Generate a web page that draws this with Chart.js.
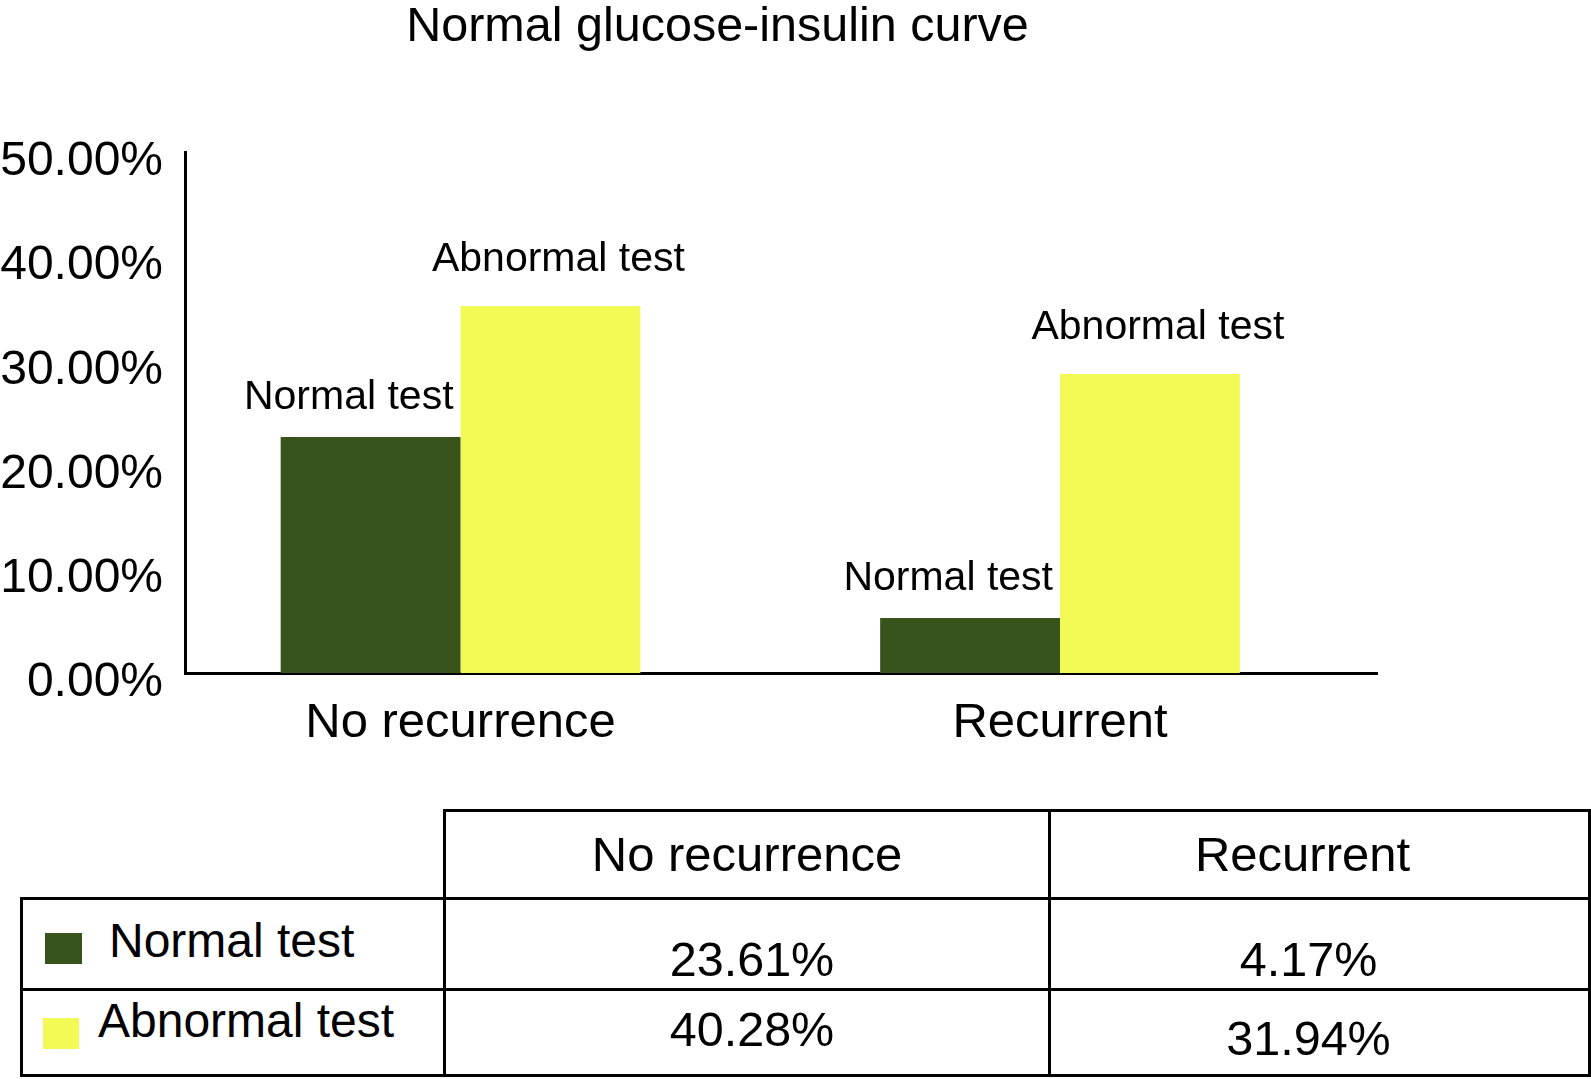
<!DOCTYPE html>
<html>
<head>
<meta charset="utf-8">
<script src="https://cdn.jsdelivr.net/npm/chart.js@4.4.1/dist/chart.umd.min.js"></script>
<style>
html, body { margin: 0; padding: 0; background: #fff; }
body { width: 1591px; height: 1079px; position: relative; overflow: hidden;
       font-family: "Liberation Sans", Arial, Helvetica, sans-serif; color: #000; }
#wrap { position: absolute; left: 0; top: 0; width: 1435px; height: 760px; }
#title { position: absolute; left: 0; top: 0; width: 1435px; text-align: center;
         font-size: 48.5px; line-height: 48.5px; white-space: nowrap; }
#tbl { position: absolute; left: 20px; top: 809px; border-collapse: collapse; table-layout: fixed; }
#tbl td { border: 3px solid #000; padding: 0; text-align: center; vertical-align: middle;
          position: relative; white-space: nowrap; line-height: 1.15; }
#tbl td.blank { border-top: none; border-left: none; }
#tbl td.hd { font-size: 49px; }
#tbl td.val { font-size: 48.5px; }
#tbl td.lab { text-align: left; }
.sw { position: absolute; display: block; }
.lt { position: absolute; font-size: 48px; line-height: 48px; display: block; }
</style>
</head>
<body>
<div id="wrap"><canvas id="chart"></canvas></div>
<div id="title"></div>
<table id="tbl"></table>
<script>
// ---- data ----
const chartTitle = 'Normal glucose-insulin curve';
const categories = ['No recurrence', 'Recurrent'];
const seriesNames = ['Normal test', 'Abnormal test'];
// bar heights as drawn in the picture (%)
const barNormal = [22.65, 5.28];
const barAbnormal = [35.22, 28.70];
// values printed in the table (%)
const tableNormal = [23.61, 4.17];
const tableAbnormal = [40.28, 31.94];
const yTicks = [0, 10, 20, 30, 40, 50];

const colors = ['#38531b', '#f4fa55'];
const FONT = '"Liberation Sans", Arial, Helvetica, sans-serif';
Chart.defaults.font.family = FONT;
Chart.defaults.color = '#000';

document.getElementById('title').textContent = chartTitle;

const barLabelPlugin = {
  id: 'barLabels',
  afterDatasetsDraw(chart) {
    const ctx = chart.ctx;
    ctx.save();
    ctx.font = '41px ' + FONT;
    ctx.fillStyle = '#000';
    ctx.textBaseline = 'alphabetic';
    chart.data.datasets.forEach((ds, di) => {
      const meta = chart.getDatasetMeta(di);
      meta.data.forEach(bar => {
        const p = bar.getProps(['x', 'y', 'width'], true);
        if (di === 0) {
          ctx.textAlign = 'right';
          ctx.fillText(ds.label, p.x + p.width / 2 - 7, p.y - 28);
        } else {
          ctx.textAlign = 'center';
          ctx.fillText(ds.label, p.x + 8, p.y - 35);
        }
      });
    });
    ctx.restore();
  }
};

new Chart(document.getElementById('chart'), {
  type: 'bar',
  data: {
    datasets: [
      { label: seriesNames[0], data: categories.map((c, i) => ({ x: i, y: barNormal[i] })),
        backgroundColor: colors[0], borderWidth: 0, categoryPercentage: 0.6, barPercentage: 1.0 },
      { label: seriesNames[1], data: categories.map((c, i) => ({ x: i, y: barAbnormal[i] })),
        backgroundColor: colors[1], borderWidth: 0, categoryPercentage: 0.6, barPercentage: 1.0 }
    ]
  },
  options: {
    responsive: true,
    maintainAspectRatio: false,
    animation: false,
    devicePixelRatio: 1,
    layout: { padding: { left: 0, right: 58, top: 152, bottom: 0 } },
    plugins: {
      legend: { display: false },
      tooltip: { enabled: false },
      title: { display: false }
    },
    scales: {
      x: {
        type: 'linear', min: -0.4596, max: 1.5288, offset: false,
        grid: { display: false, drawTicks: false, offset: false },
        border: { display: true, color: '#000', width: 3 },
        ticks: {
          stepSize: 1, includeBounds: false, autoSkip: false, maxRotation: 0, minRotation: 0,
          padding: 21, color: '#000', font: { size: 49 },
          callback: v => (Number.isInteger(v) && categories[v] !== undefined) ? categories[v] : ''
        },
        afterFit: s => { s.height = 87; }
      },
      y: {
        min: 0, max: 50,
        grid: { display: false, drawTicks: false },
        border: { display: true, color: '#000', width: 3 },
        ticks: { padding: 22, labelOffset: 10, color: '#000', font: { size: 48 },
                 callback: v => v.toFixed(2) + '%' },
        afterBuildTicks: s => { s.ticks = yTicks.map(v => ({ value: v })); },
        afterFit: s => { s.width = 185; }
      }
    }
  },
  plugins: [barLabelPlugin]
});

// ---- table ----
const tbl = document.getElementById('tbl');
const fmt = v => v.toFixed(2) + '%';
tbl.innerHTML =
  '<colgroup><col style="width:423px"><col style="width:605px"><col style="width:540px"></colgroup>' +
  '<tr style="height:88px"><td class="blank"></td>' +
  '<td class="hd">' + categories[0] + '</td>' +
  '<td class="hd" style="padding-right:34px">' + categories[1] + '</td></tr>' +
  '<tr style="height:86px">' +
  '<td class="lab"><span class="sw" style="left:22px;top:33px;width:37px;height:31px;background:' + colors[0] + '"></span>' +
  '<span class="lt" style="left:86px;top:17px">' + seriesNames[0] + '</span></td>' +
  '<td class="val" style="padding-top:32px;padding-left:10px">' + fmt(tableNormal[0]) + '</td>' +
  '<td class="val" style="padding-top:32px;padding-right:22px">' + fmt(tableNormal[1]) + '</td></tr>' +
  '<tr style="height:86px">' +
  '<td class="lab"><span class="sw" style="left:20px;top:27px;width:36px;height:31px;background:' + colors[1] + '"></span>' +
  '<span class="lt" style="left:75px;top:6px">' + seriesNames[1] + '</span></td>' +
  '<td class="val" style="padding-bottom:4px;padding-left:10px">' + fmt(tableAbnormal[0]) + '</td>' +
  '<td class="val" style="padding-top:14px;padding-right:22px">' + fmt(tableAbnormal[1]) + '</td></tr>';
</script>
</body>
</html>
